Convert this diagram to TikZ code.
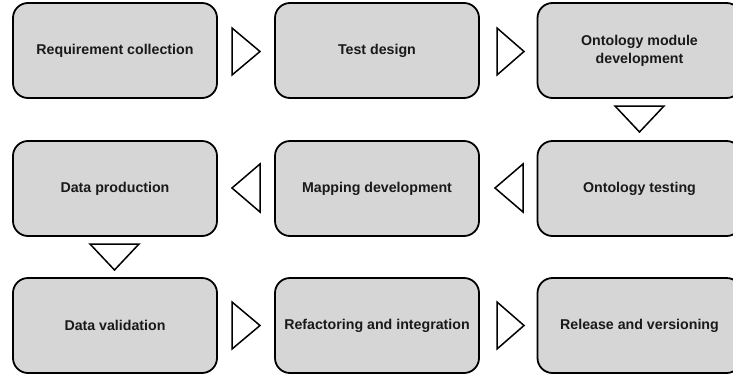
\documentclass[tikz,border=0pt]{standalone}
\usepackage{fontspec}
\setmainfont{Liberation Sans}
\definecolor{boxfill}{RGB}{214,214,214}
\definecolor{txt}{RGB}{25,25,25}
\begin{document}
\begin{tikzpicture}[x=1pt,y=-1pt,
  stepbox/.style={draw=black,fill=boxfill,line width=1.8pt,rounded corners=15pt,
    minimum width=204pt,minimum height=95pt,align=center,text=txt,
    font=\fontsize{14.2}{18}\selectfont\bfseries,inner sep=0pt},
  tri/.style={draw=black,fill=white,line width=1.5pt,line join=miter}]
\useasboundingbox (0,0) rectangle (733,375);
\node[stepbox] (b1) at (115,50.5) {Requirement collection};
\node[stepbox] (b2) at (377,50.5) {Test design};
\node[stepbox] (b3) at (639.5,50.5) {Ontology module\\development};
\node[stepbox] (b4) at (115,188.5) {Data production};
\node[stepbox] (b5) at (377,188.5) {Mapping development};
\node[stepbox] (b6) at (639.5,188.5) {Ontology testing};
\node[stepbox] (b7) at (115,325.5) {Data validation};
\node[stepbox] (b8) at (377,325.5) {Refactoring and integration};
\node[stepbox] (b9) at (639.5,325.5) {Release and versioning};
% right-pointing triangles
\draw[tri] (232,28) -- (260,51.5) -- (232,75) -- cycle;
\draw[tri] (497,28) -- (524,51.5) -- (497,75) -- cycle;
\draw[tri] (232,302) -- (260,325.5) -- (232,349) -- cycle;
\draw[tri] (497,302) -- (524,325.5) -- (497,349) -- cycle;
% left-pointing triangles
\draw[tri] (260,164) -- (232,188) -- (260,212) -- cycle;
\draw[tri] (523,164) -- (495,188) -- (523,212) -- cycle;
% down-pointing triangles
\draw[tri] (615,106) -- (664,106) -- (639.5,132) -- cycle;
\draw[tri] (90,244) -- (139,244) -- (114.5,270) -- cycle;
\end{tikzpicture}
\end{document}
